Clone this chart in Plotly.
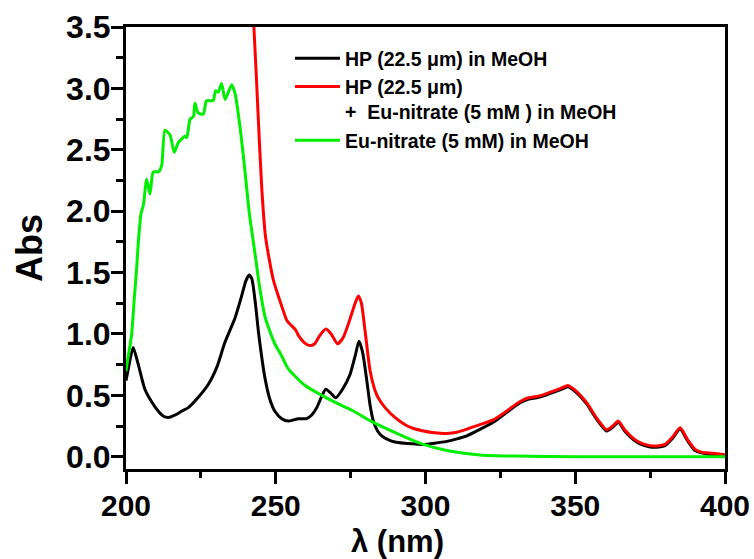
import plotly.graph_objects as go

# Wavelength grids (nm) and absorbance values for each spectrum
hp_wl = [200, 200.8, 202.4, 204, 206.3, 208.5, 210.8, 212.5, 214.1, 216.5, 218.5,
         220.8, 224, 227.5, 230.5, 233, 236.4, 238.5, 240, 241.1, 242, 243.2, 244.3,
         245.5, 246.4, 248, 249.7, 252, 254.2, 256, 257.5, 260.3, 262, 263.7, 265.3,
         266.7, 268.3, 270, 272.3, 274.8, 276.5, 277.8, 279, 280.4, 281.5, 282.6,
         284, 285.4, 287.5, 289.8, 293, 296, 299.3, 303, 307.1, 310.5, 313.8, 318,
         322.6, 327, 331.6, 334.5, 337.1, 340, 342.7, 345.5, 347.5, 350, 353.8, 357,
         360.5, 362.5, 364.4, 366.5, 369.4, 372, 375, 378, 380, 382.5, 385, 387.5,
         390, 392.5, 395, 400]
hp_abs = [0.62, 0.72, 0.89, 0.76, 0.55, 0.45, 0.37, 0.33, 0.32, 0.34, 0.37,
          0.40, 0.48, 0.59, 0.74, 0.93, 1.13, 1.30, 1.43, 1.48, 1.45, 1.25, 1.00,
          0.78, 0.64, 0.47, 0.37, 0.31, 0.29, 0.30, 0.31, 0.31, 0.34, 0.40, 0.49,
          0.55, 0.52, 0.48, 0.55, 0.67, 0.82, 0.94, 0.85, 0.62, 0.42, 0.29,
          0.21, 0.17, 0.14, 0.12, 0.11, 0.105, 0.10, 0.11, 0.125, 0.145, 0.17, 0.22,
          0.28, 0.36, 0.44, 0.47, 0.48, 0.50, 0.525, 0.55, 0.57, 0.53, 0.43, 0.31,
          0.21, 0.24, 0.28, 0.21, 0.14, 0.10, 0.08, 0.08, 0.09, 0.15, 0.225, 0.13,
          0.05, 0.03, 0.02, 0.01]

hp_eu_wl = [242.3, 242.7, 244.2, 245.3, 246.6, 249.2, 252.5, 253.7, 256.7, 257.5,
            259.5, 261.4, 263, 264.8, 266.7, 268.5, 270.6, 272.5, 274.5, 276.5,
            277.6, 278.6, 279.8, 281.5, 283, 284.2, 286.5, 289.8, 293.2, 296, 299.3,
            303, 307.1, 310.5, 313.8, 318, 322.6, 327, 331.6, 334.5, 337.1, 340,
            342.7, 345.5, 347.5, 350, 353.8, 357, 360.5, 362.5, 364.4, 366.5, 369.4,
            372, 375, 378, 380, 382.5, 385, 387.5, 390, 392.5, 395, 400]
hp_eu_abs = [3.6, 3.5, 2.74, 2.2, 1.79, 1.44, 1.19, 1.11, 1.03, 0.99,
             0.93, 0.905, 0.92, 0.99, 1.04, 1.0, 0.92, 0.97, 1.10, 1.25,
             1.31, 1.25, 1.03, 0.70, 0.55, 0.48, 0.40, 0.32, 0.26, 0.23, 0.21,
             0.195, 0.19, 0.20, 0.225, 0.26, 0.30, 0.37, 0.45, 0.48, 0.49, 0.51,
             0.535, 0.56, 0.58, 0.54, 0.44, 0.32, 0.22, 0.25, 0.29, 0.22, 0.15,
             0.11, 0.09, 0.09, 0.10, 0.16, 0.235, 0.14, 0.06, 0.035, 0.03, 0.015]

eu_wl = [200, 200.5, 201.3, 201.9, 202.8, 203.6, 204.1, 205, 205.8, 206.9, 208,
         209.1, 210.8, 211.9, 213, 214.7, 216.1, 217.5, 219.7, 220.3, 221.4, 222.5,
         223, 224.1, 225.8, 226.9, 229.1, 229.9, 230.8, 231.9, 233.1, 235.3, 236.4,
         238.1, 239.7, 241.2, 243.1, 244.5, 246.4, 249.5, 252, 254.2, 259.8, 265.4,
         270.9, 276.1, 281.7, 287.3, 293.2, 299.3, 307.1, 318.2, 330, 350, 375, 400]
eu_abs = [0.70, 0.78, 0.90, 1.0, 1.3, 1.55, 1.74, 1.98, 2.05, 2.26, 2.14,
          2.32, 2.32, 2.37, 2.66, 2.62, 2.48, 2.56, 2.61, 2.60, 2.75, 2.77,
          2.88, 2.80, 2.79, 2.90, 2.90, 2.98, 2.97, 3.04, 2.91, 3.03, 2.96,
          2.68, 2.33, 1.98, 1.65, 1.40, 1.14, 0.93, 0.82, 0.715, 0.58, 0.50,
          0.43, 0.37, 0.29, 0.225, 0.16, 0.10, 0.05, 0.015, 0.005, 0.0, 0.0, 0.0]

names = ["HP (22.5 \u03bcm) in MeOH",
         "HP (22.5 \u03bcm)<br>+&nbsp;&nbsp;Eu-nitrate (5 mM ) in MeOH",
         "Eu-nitrate (5 mM) in MeOH"]
colors = ["#000000", "#ff0000", "#00ee00"]

x_ticks = [200, 250, 300, 350, 400]
y_ticks = [0.0, 0.5, 1.0, 1.5, 2.0, 2.5, 3.0, 3.5]

FONT = "Liberation Sans, Arial, sans-serif"
L, R, T, B = 126, 29, 27, 90
W, H = 754, 559
PW, PH = W - L - R, H - T - B


def px_x(px):
    """Pixel column -> paper x."""
    return (px - L) / PW


def px_y(py):
    """Pixel row -> paper y."""
    return (H - B - py) / PH


fig = go.Figure()
for wl, ab, nm, col in zip([hp_wl, hp_eu_wl, eu_wl],
                           [hp_abs, hp_eu_abs, eu_abs], names, colors):
    fig.add_trace(go.Scatter(x=wl, y=ab, mode="lines", name=nm,
                             line=dict(color=col, width=3, shape="spline",
                                       smoothing=0.6)))

axis_common = dict(
    showline=True, linecolor="black", linewidth=3, mirror=True,
    ticks="outside", ticklen=12, tickwidth=3, tickcolor="black",
    showgrid=False, zeroline=False, automargin=False,
)

fig.update_layout(
    width=W, height=H,
    margin=dict(l=L, r=R, t=T, b=B, autoexpand=False),
    paper_bgcolor="white", plot_bgcolor="white",
    xaxis=dict(range=[200, 400], tickvals=x_ticks, ticklabelstandoff=-4,
               tickfont=dict(family=FONT, size=30, color="black", weight="bold"),
               minor=dict(dtick=25, ticks="outside", ticklen=6, tickwidth=3,
                          tickcolor="black"),
               **axis_common),
    yaxis=dict(range=[-0.1, 3.5], tickvals=y_ticks, tickformat=".1f",
               ticklabelstandoff=-6,
               tickfont=dict(family=FONT, size=32, color="black", weight="bold"),
               minor=dict(dtick=0.25, ticks="outside", ticklen=7, tickwidth=3,
                          tickcolor="black"),
               **axis_common),
    legend=dict(x=px_x(290), y=px_y(39), xanchor="left",
                yanchor="top", bgcolor="rgba(0,0,0,0)", borderwidth=0,
                valign="top", itemwidth=45,
                font=dict(family=FONT, size=19.5, color="black", weight="bold")),
    showlegend=True,
    annotations=[
        dict(text="\u03bb (nm)", xref="paper", yref="paper",
             x=px_x(397), y=px_y(541),
             xanchor="center", yanchor="middle", showarrow=False,
             font=dict(family=FONT, size=31, color="black", weight="bold")),
        dict(text="Abs", xref="paper", yref="paper", textangle=-90,
             x=px_x(29), y=0.5, xanchor="center", yanchor="middle",
             showarrow=False,
             font=dict(family=FONT, size=36, color="black", weight="bold")),
    ],
)

fig.write_html("out.html")
